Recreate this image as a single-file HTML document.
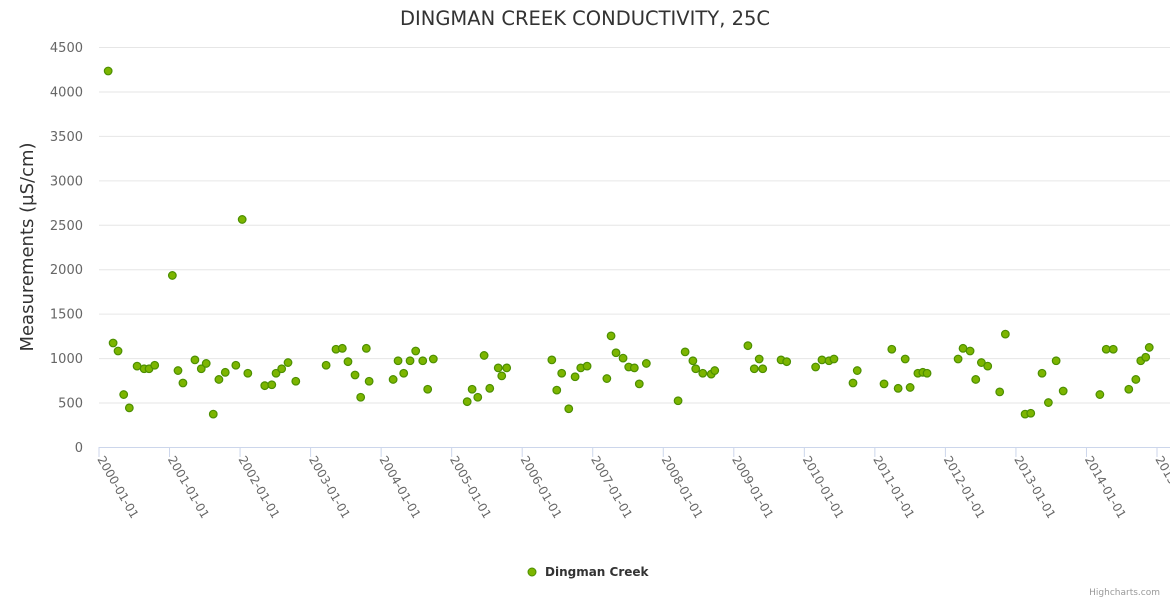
<!DOCTYPE html>
<html><head><meta charset="utf-8"><style>
body{margin:0;background:#fff;font-family:"DejaVu Sans",sans-serif}
</style></head><body>
<svg id="chart" width="1170" height="600" xmlns="http://www.w3.org/2000/svg" style="font-family:'DejaVu Sans','Liberation Sans',sans-serif">
<text x="585" y="25" text-anchor="middle" font-size="19.5" fill="#333">DINGMAN CREEK CONDUCTIVITY, 25C</text>
<text transform="translate(33,247) rotate(-90)" text-anchor="middle" font-size="18" fill="#333">Measurements (µS/cm)</text>
<g id="grid"></g><g id="xaxis"></g><g id="points"></g>
<g>
<circle cx="532" cy="572" r="4" fill="#7cb500" stroke="#4c8f00" stroke-width="1"/>
<text x="545" y="576" font-size="12" font-weight="bold" fill="#333">Dingman Creek</text></g>
<text x="1160" y="595" text-anchor="end" font-size="9" fill="#999">Highcharts.com</text>
</svg>
<script>
const years=[0.13,0.20,0.27,0.35,0.43,0.54,0.64,0.71,0.79,1.04,1.12,1.19,1.36,1.45,1.52,1.62,1.70,1.79,1.94,2.03,2.11,2.35,2.45,2.51,2.59,2.68,2.79,3.22,3.36,3.45,3.53,3.63,3.71,3.79,3.83,4.17,4.24,4.32,4.41,4.49,4.59,4.66,4.74,5.22,5.29,5.37,5.46,5.54,5.66,5.71,5.78,6.42,6.49,6.56,6.66,6.75,6.83,6.92,7.20,7.26,7.33,7.43,7.51,7.59,7.66,7.76,8.21,8.31,8.42,8.46,8.56,8.68,8.73,9.20,9.29,9.36,9.41,9.67,9.75,10.16,10.25,10.35,10.42,10.69,10.75,11.13,11.24,11.33,11.43,11.50,11.61,11.68,11.74,12.18,12.25,12.35,12.43,12.51,12.60,12.77,12.85,13.13,13.21,13.37,13.46,13.57,13.67,14.19,14.28,14.38,14.60,14.70,14.77,14.84,14.89];
const values=[4230,1170,1080,590,440,910,880,880,920,1930,860,720,980,880,940,370,760,840,920,2560,830,690,700,830,880,950,740,920,1100,1110,960,810,560,1110,740,760,970,830,970,1080,970,650,990,510,650,560,1030,660,890,800,890,980,640,830,430,790,890,910,770,1250,1060,1000,900,890,710,940,520,1070,970,880,830,820,860,1140,880,990,880,980,960,900,980,970,990,720,860,710,1100,660,990,670,830,840,830,990,1110,1080,760,950,910,620,1270,370,380,830,500,970,630,590,1100,1100,650,760,970,1010,1120];
const yTicks=[0,500,1000,1500,2000,2500,3000,3500,4000,4500];
const xTickLabels=["2000-01-01","2001-01-01","2002-01-01","2003-01-01","2004-01-01","2005-01-01","2006-01-01","2007-01-01","2008-01-01","2009-01-01","2010-01-01","2011-01-01","2012-01-01","2013-01-01","2014-01-01","2015-01-01"];
const L=99,R=1157,T=47,B=447;
const xs=t=>L+t*(R-L)/15, ys=v=>B-v*(B-T)/4500;
const NS="http://www.w3.org/2000/svg";
function mk(tag,attrs,parent,txt){const e=document.createElementNS(NS,tag);for(const k in attrs)e.setAttribute(k,attrs[k]);if(txt!==undefined)e.textContent=txt;parent.appendChild(e);return e;}
const grid=document.getElementById('grid');
yTicks.forEach(v=>{
 const l=mk('line',{x1:L,x2:R+13,y1:ys(v)+0.5,y2:ys(v)+0.5,stroke:v===0?'#ccd6eb':'#e6e6e6','stroke-width':1},grid);
 
 
 const t=mk('text',{x:83,y:ys(v)+5,'text-anchor':'end','font-size':13,fill:'#666'},grid,String(v));
 
 
});
const xa=document.getElementById('xaxis');
mk('line',{x1:L,x2:R+13,y1:B+0.5,y2:B+0.5,stroke:'#ccd6eb'},xa);
xTickLabels.forEach((s,i)=>{
 const x=xs(i);
 const tk=mk('line',{x1:x,x2:x,y1:B,y2:B+10,stroke:'#ccd6eb'},xa);
 
 
 const t=mk('text',{transform:`translate(${x-2},${B+12}) rotate(60)`,'font-size':12,fill:'#666'},xa,s);
 
 
});
const pts=document.getElementById('points');
years.forEach((y,i)=>{
 const c=mk('circle',{cx:xs(y),cy:ys(values[i]),r:3.8,fill:'#7cb500',stroke:'#4c8f00','stroke-width':1.2},pts);
 
 
});
</script>
</body></html>
